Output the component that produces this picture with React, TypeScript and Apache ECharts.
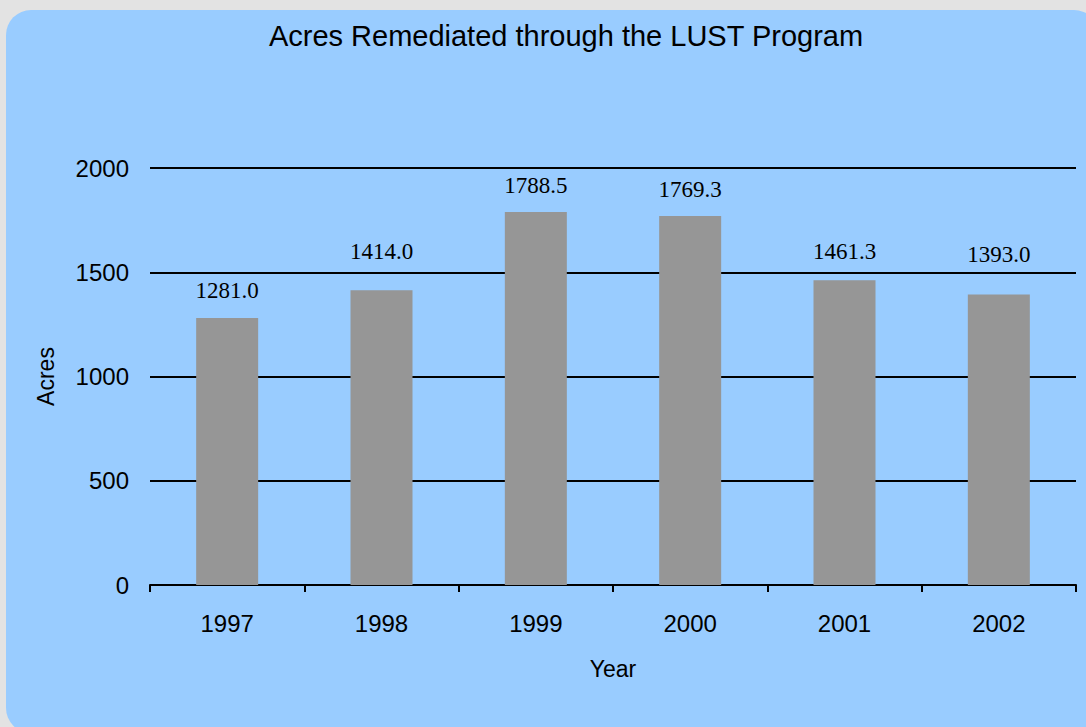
import React, { useEffect, useRef } from "react";
import * as echarts from "echarts";

const categories = ["1997", "1998", "1999", "2000", "2001", "2002"];
const acres = [1281.0, 1414.0, 1788.5, 1769.3, 1461.3, 1393.0];
const yTicks = [0, 500, 1000, 1500, 2000];
const labelGaps = [16, 27, 15, 15, 17, 29];

export default function App() {
  const ref = useRef<HTMLDivElement>(null);
  useEffect(() => {
    if (!ref.current) return;
    const chart = echarts.init(ref.current, null, { renderer: "svg" });
    chart.setOption({
      animation: false,
      backgroundColor: "#e3e3e3",
      graphic: [
        {
          type: "rect",
          z: -10,
          silent: true,
          shape: { x: 6, y: 10, width: 1093, height: 723, r: 25 },
          style: { fill: "#99ccff" },
        },
      ],
      title: {
        text: "Acres Remediated through the LUST Program",
        left: 561,
        top: 16,
        textAlign: "center",
        textStyle: {
          fontFamily: "Liberation Sans, Arial, sans-serif",
          fontSize: 29,
          fontWeight: "normal",
          color: "#000",
        },
      },
      grid: { left: 150, right: 10, top: 168, bottom: 142, containLabel: false },
      xAxis: {
        type: "category",
        data: categories,
        name: "Year",
        nameLocation: "middle",
        nameGap: 72,
        nameTextStyle: { fontFamily: "Liberation Sans, Arial, sans-serif", fontSize: 23, color: "#000" },
        axisLine: { lineStyle: { color: "#000", width: 2 } },
        axisTick: { show: true, length: 7, lineStyle: { color: "#000", width: 2 } },
        axisLabel: {
          margin: 26,
          fontFamily: "Liberation Sans, Arial, sans-serif",
          fontSize: 24,
          color: "#000",
        },
      },
      yAxis: {
        type: "value",
        min: 0,
        max: yTicks[yTicks.length - 1],
        interval: 500,
        name: "Acres",
        nameLocation: "middle",
        nameGap: 93,
        nameTextStyle: { fontFamily: "Liberation Sans, Arial, sans-serif", fontSize: 23, color: "#000" },
        axisLine: { show: false },
        axisTick: { show: false },
        splitLine: { lineStyle: { color: "#000", width: 2 } },
        axisLabel: {
          margin: 21,
          formatter: (v: number) => String(v),
          fontFamily: "Liberation Sans, Arial, sans-serif",
          fontSize: 24,
          color: "#000",
        },
      },
      series: [
        {
          type: "bar",
          data: acres.map((v, i) => ({ value: v, label: { distance: labelGaps[i] } })),
          barWidth: 62,
          itemStyle: { color: "#969696" },
          label: {
            show: true,
            position: "top",
            formatter: (p: any) => Number(p.value).toFixed(1),
            fontFamily: "Liberation Serif, Times New Roman, serif",
            fontSize: 23,
            color: "#000",
          },
        },
      ],
    });
    return () => chart.dispose();
  }, []);
  return (
    <div
      ref={ref}
      style={{ position: "fixed", left: 0, top: 0, width: 1086, height: 727 }}
    />
  );
}
